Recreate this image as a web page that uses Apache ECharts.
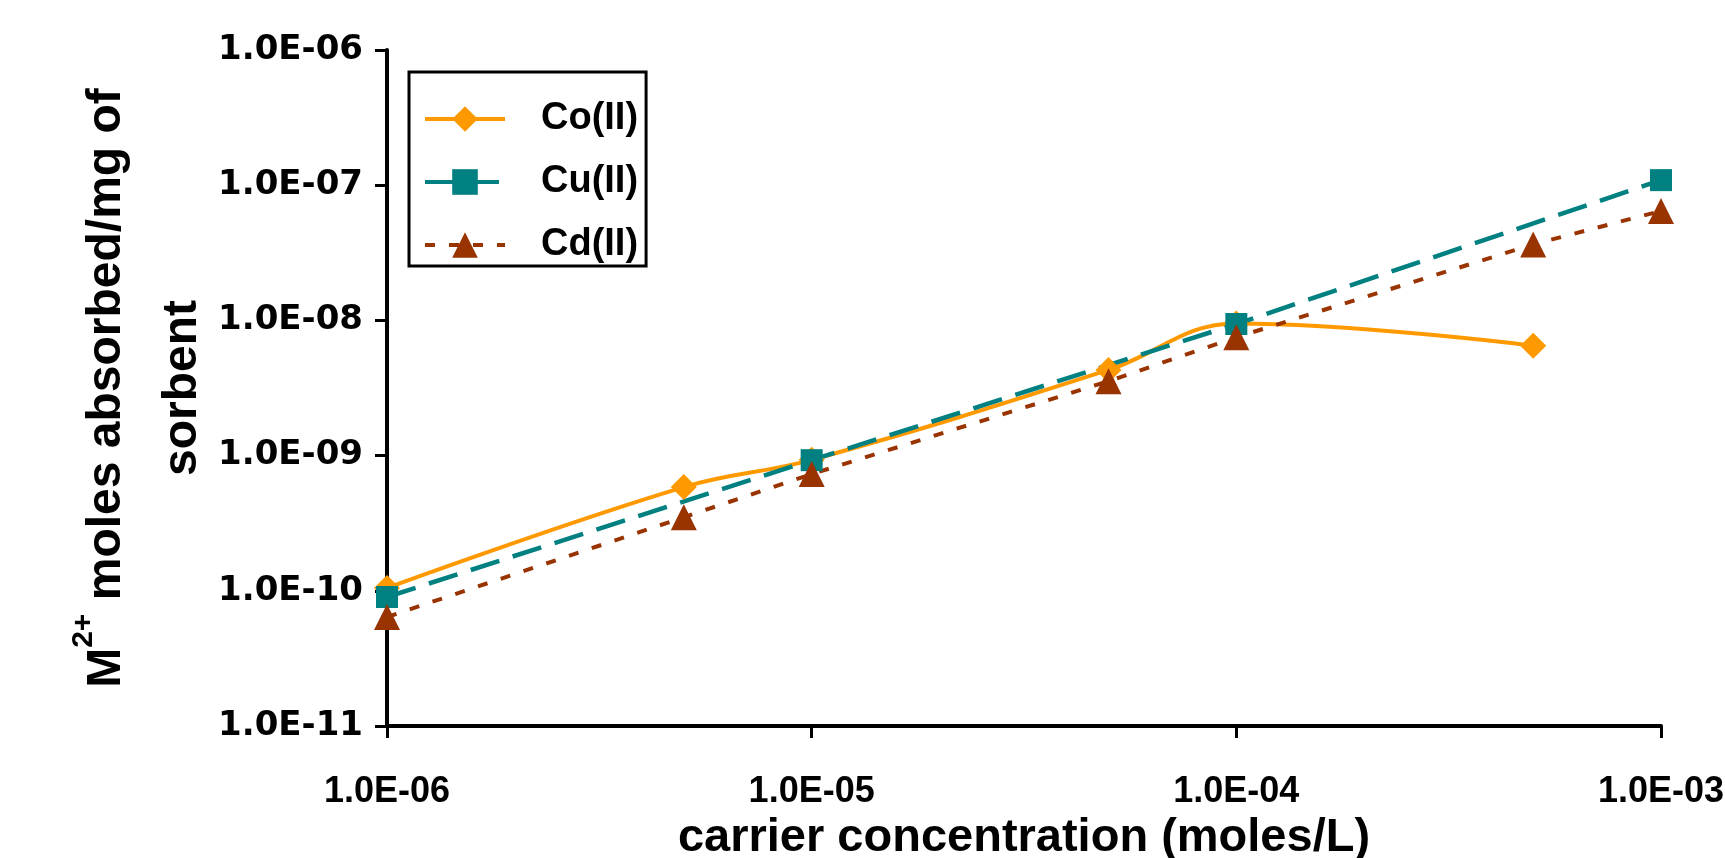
<!DOCTYPE html>
<html>
<head>
<meta charset="utf-8">
<title>carrier concentration</title>
<script src="https://cdn.jsdelivr.net/npm/echarts@6/dist/echarts.min.js"></script>
<style>
  html, body { margin: 0; padding: 0; background: #fff; }
  #chart { width: 1725px; height: 858px; }
</style>
</head>
<body>
<div id="chart"></div>
<script>
  // carrier concentration (moles/L) vs M2+ moles absorbed per mg sorbent
  const coX = [1e-6, 5e-6, 1e-5, 5e-5, 1e-4, 5e-4]
  const coY = [1.05e-10, 5.85e-10, 9.3e-10, 4.3e-9, 9.5e-9, 6.5e-9]

  const cuX = [1e-6, 1e-5, 1e-4, 1e-3]
  const cuY = [9.0e-11, 9.25e-10, 9.4e-9, 1.09e-7]

  const cdX = [1e-6, 5e-6, 1e-5, 5e-5, 1e-4, 5e-4, 1e-3]
  const cdY = [6.4e-11, 3.5e-10, 7.3e-10, 3.55e-9, 7.5e-9, 3.65e-8, 6.45e-8]

  const seriesNames = ['Co(II)', 'Cu(II)', 'Cd(II)']
  const colors = ['#FF9900', '#008080', '#993300']

  const pairs = (xs, ys) => xs.map((x, i) => [x, ys[i]])

  // 1.0E-06 style labels
  const sciLabel = v => {
    const e = Math.round(Math.log10(v))
    const a = Math.abs(e)
    return '1.0E' + (e < 0 ? '-' : '+') + (a < 10 ? '0' + a : a)
  }

  const lineStyles = [
    { color: colors[0], width: 4, type: 'solid' },
    { color: colors[1], width: 4.5, type: [30, 14] },
    { color: colors[2], width: 4, type: [10, 14] }
  ]

  const chart = echarts.init(document.getElementById('chart'))

  const option = {
    animation: false,
    backgroundColor: '#fff',
    grid: {
      left: 387,
      right: 64,
      top: 50,
      bottom: 132,
      containLabel: false,
      outerBoundsMode: 'none'
    },
    legend: {
      orient: 'vertical',
      left: 409,
      top: 72,
      padding: [27, 8, 1, 14],
      borderColor: '#000',
      borderWidth: 3,
      itemWidth: 80,
      itemHeight: 32,
      itemGap: 23,
      textStyle: {
        fontFamily: 'Liberation Sans, Arial, sans-serif',
        fontWeight: 'bold',
        fontSize: 38,
        lineHeight: 40,
        color: '#000',
        padding: [0, 0, 0, 31]
      },
      data: seriesNames.map((name, i) => ({
        name: name,
        lineStyle: { color: colors[i], width: 4, type: lineStyles[i].type }
      }))
    },
    xAxis: {
      type: 'log',
      logBase: 10,
      min: 1e-6,
      max: 1e-3,
      name: 'carrier concentration (moles/L)',
      nameLocation: 'middle',
      nameGap: 88,
      nameTextStyle: {
        fontFamily: 'Liberation Sans, Arial, sans-serif',
        fontWeight: 'bold',
        fontSize: 47,
        color: '#000'
      },
      splitLine: { show: false },
      axisLine: { lineStyle: { color: '#000', width: 4 } },
      axisTick: { length: 12, lineStyle: { color: '#000', width: 3 } },
      axisLabel: {
        margin: 48,
        formatter: sciLabel,
        fontFamily: 'Liberation Sans Narrow, Liberation Sans, Arial, sans-serif',
        fontWeight: 'bold',
        fontSize: 36,
        color: '#000'
      }
    },
    yAxis: {
      type: 'log',
      logBase: 10,
      min: 1e-11,
      max: 1e-6,
      name: '{b|M}{s|2+}{b| moles absorbed/mg of}\n{b|sorbent}',
      nameLocation: 'middle',
      nameRotate: 90,
      nameGap: 148,
      nameTextStyle: {
        color: '#000',
        rich: {
          b: {
            fontFamily: 'Liberation Sans, Arial, sans-serif',
            fontWeight: 'bold',
            fontSize: 48,
            lineHeight: 76,
            color: '#000'
          },
          s: {
            fontFamily: 'Liberation Sans, Arial, sans-serif',
            fontWeight: 'bold',
            fontSize: 30,
            lineHeight: 60,
            verticalAlign: 'top',
            color: '#000'
          }
        }
      },
      splitLine: { show: false },
      axisLine: { lineStyle: { color: '#000', width: 4 } },
      axisTick: { length: 12, lineStyle: { color: '#000', width: 3 } },
      axisLabel: {
        margin: 24,
        formatter: sciLabel,
        fontFamily: 'DejaVu Sans, sans-serif',
        fontWeight: 'bold',
        fontSize: 34,
        color: '#000'
      }
    },
    series: [
      {
        name: seriesNames[0],
        type: 'line',
        smooth: 0.4,
        symbol: 'diamond',
        symbolSize: 26,
        color: colors[0],
        lineStyle: lineStyles[0],
        itemStyle: { color: colors[0] },
        data: pairs(coX, coY)
      },
      {
        name: seriesNames[1],
        type: 'line',
        symbol: 'rect',
        symbolSize: 22,
        color: colors[1],
        lineStyle: lineStyles[1],
        itemStyle: { color: colors[1] },
        data: pairs(cuX, cuY)
      },
      {
        name: seriesNames[2],
        type: 'line',
        symbol: 'triangle',
        symbolSize: 26,
        color: colors[2],
        lineStyle: lineStyles[2],
        itemStyle: { color: colors[2] },
        data: pairs(cdX, cdY)
      }
    ]
  }

  chart.setOption(option)
  window.addEventListener('resize', () => chart.resize())
</script>
</body>
</html>
